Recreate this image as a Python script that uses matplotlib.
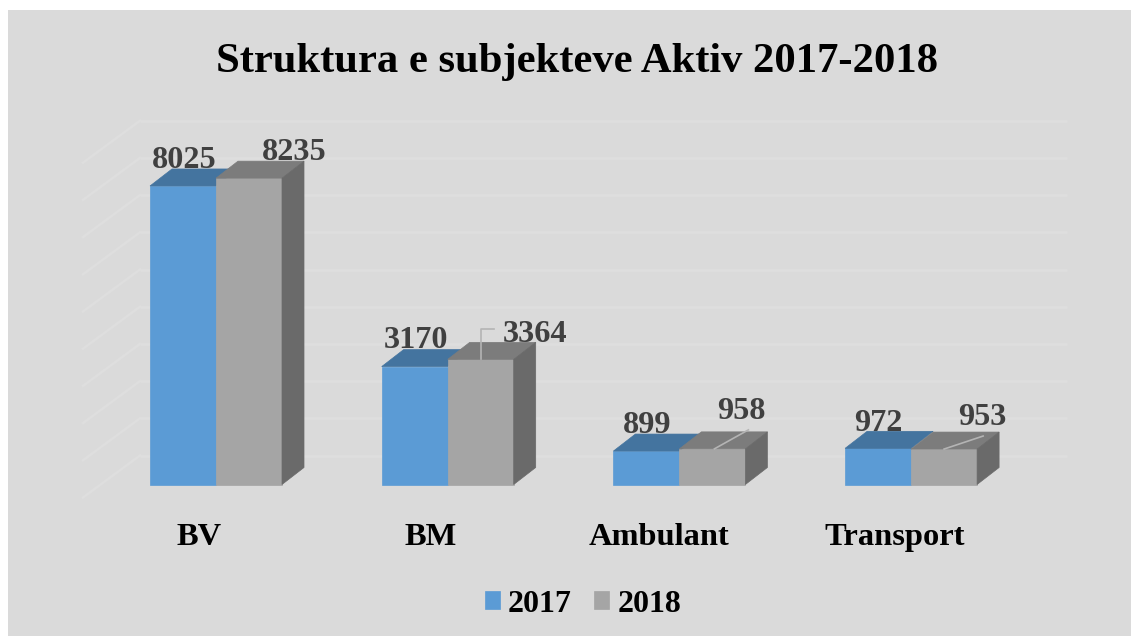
import matplotlib
matplotlib.use("Agg")
import matplotlib.pyplot as plt
from matplotlib.patches import Polygon, Rectangle

categories = ["BV", "BM", "Ambulant", "Transport"]
vals_2017 = [8025, 3170, 899, 972]
vals_2018 = [8235, 3364, 958, 953]
grid_vals = [0, 1000, 2000, 3000, 4000, 5000, 6000, 7000, 8000, 9000]

W, H = 1131, 636
BG = "#dadada"
GRID = "#dedede"
LABEL = "#404040"

# scale: pixels per category / per unit of value
ux = 231.7
uy = 0.0372
x0_px = 216
y0_px = 484.5

bar_w = 66 / ux
dep_x = 22 / ux
dep_y = 17 / uy

plt.rcParams["font.family"] = ["Liberation Serif", "DejaVu Serif"]
plt.rcParams["font.weight"] = "bold"

fig = plt.figure(figsize=(W / 100, H / 100), dpi=100, facecolor="white")
ax = fig.add_axes([0, 0, 1, 1])
ax.set_xlim(-x0_px / ux, (W - x0_px) / ux)
ax.set_ylim(-(H - y0_px) / uy, y0_px / uy)
ax.axis("off")

# panel, leaves the white strip on left and top
ax.add_patch(Rectangle((8 / W, 0), 1 - 8 / W, 1 - 10 / H, transform=ax.transAxes,
                       facecolor=BG, edgecolor="none", zorder=0))


def off(x, v, dx, dy):
    # shift a data point by some pixels
    return x + dx / ux, v + dy / uy


# back wall gridlines and their diagonals on the side wall
for g in grid_vals:
    xs, ys = zip(off(0, g, -76, 29), off(0, g, 851, 29))
    ax.plot(xs, ys, color=GRID, lw=1.8, zorder=1, solid_capstyle="butt")
    xs, ys = zip(off(0, g, -133, -13), off(0, g, -76, 29))
    ax.plot(xs, ys, color=GRID, lw=1.8, zorder=1)


def box(x, v, front, top, side, z, label):
    ax.bar(x, v, width=bar_w, align="edge", color=front, edgecolor=front, lw=0.5, zorder=z, label=label)
    r = x + bar_w
    ax.add_patch(Polygon([(x, v), (r, v), (r + dep_x, v + dep_y), (x + dep_x, v + dep_y)],
                         facecolor=top, edgecolor=top, lw=0.5, zorder=z))
    if side:
        ax.add_patch(Polygon([(r, 0), (r + dep_x, dep_y), (r + dep_x, v + dep_y), (r, v)],
                             facecolor=side, edgecolor=side, lw=0.5, zorder=z))


for i in range(len(categories)):
    # side of the 2017 box is hidden by the 2018 box
    box(i - bar_w, vals_2017[i], "#5b9bd5", "#44749f", None, 3 + i * 0.1,
        "2017" if i == 0 else None)
    box(i, vals_2018[i], "#a5a5a5", "#7c7c7c", "#6a6a6a", 4 + i * 0.1,
        "2018" if i == 0 else None)

# data labels were moved by hand in the original, offsets from top of front face
off_2017 = [(1, 25), (1, 26), (1, 26), (0, 25)]
off_2018 = [(45, 26), (54, 25), (29, 37), (38, 32)]
for i in range(len(categories)):
    cx = i - bar_w / 2
    px, py = off(cx, vals_2017[i], *off_2017[i])
    ax.text(px, py, str(vals_2017[i]), color=LABEL, fontsize=23.2, ha="center", va="center", zorder=6)
    cx = i + bar_w / 2
    px, py = off(cx, vals_2018[i], *off_2018[i])
    ax.text(px, py, str(vals_2018[i]), color=LABEL, fontsize=23.2, ha="center", va="center", zorder=6)

# leader lines on the moved labels
leaders = {1: [(0, 0), (0, 30), (13, 30)], 2: [(2, 0), (36, 19)], 3: [(0, 0), (39, 13)]}
for i, pts in leaders.items():
    cx = i + bar_w / 2
    xy = [off(cx, vals_2018[i], a, b) for a, b in pts]
    ax.plot([p[0] for p in xy], [p[1] for p in xy], color="#b4b4b4", lw=1.2, zorder=5)

# category labels sit left of group centre
cat_off = [-17, -17, -20, -16]
for i, c in enumerate(categories):
    px, py = off(i, 0, cat_off[i], -53)
    ax.text(px, py, c, color="black", fontsize=23.4, ha="center", va="center", zorder=6)

ax.text(0.51, 1 - 62 / H, "Struktura e subjekteve Aktiv 2017-2018", transform=ax.transAxes,
        color="black", fontsize=30.7, ha="center", va="center", zorder=6)

ax.legend(loc="center", bbox_to_anchor=(583 / W, 1 - 604 / H), ncol=2, frameon=False, fontsize=23,
          handlelength=0.47, handleheight=0.47, handletextpad=0.25, columnspacing=0.7, labelcolor="black")

fig.savefig("out.png", dpi=100, facecolor="white")
